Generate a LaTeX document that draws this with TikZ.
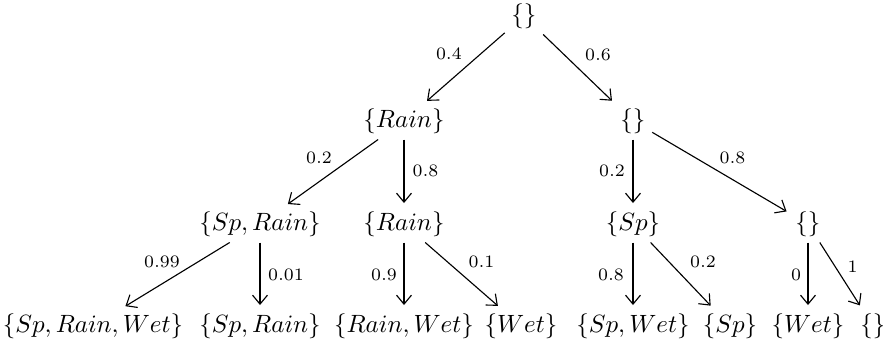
\documentclass[tikz,border=0pt]{standalone}
\usetikzlibrary{arrows.meta}
\begin{document}
\begin{tikzpicture}[x=0.4pt,y=-0.4pt,
  st/.style={inner xsep=2.5pt, inner ysep=2.2pt, text height=7.5pt, text depth=2.5pt},
  lbl/.style={font=\scriptsize, inner sep=0pt},
  ar/.style={-{Straight Barb[length=3.6pt,width=6pt,line width=0.45pt]}, line width=0.45pt, shorten >=1pt},
  med/.style={line width=0.75pt},
  thk/.style={line width=1.1pt}]
\useasboundingbox (0,0) rectangle (883,347);
% nodes
\node[st] (r) at (524,16) {$\{\}$};
\node[st] (a) at (404,121) {$\{Rain\}$};
\node[st] (b) at (633,121) {$\{\}$};
\node[st] (c) at (260,224) {$\{Sp, Rain\}$};
\node[st] (d) at (404,224) {$\{Rain\}$};
\node[st] (e) at (633,224) {$\{Sp\}$};
\node[st] (f) at (808,224) {$\{\}$};
\node[st] (g) at (93,326) {$\{Sp, Rain, Wet\}$};
\node[st] (h) at (260,326) {$\{Sp, Rain\}$};
\node[st] (i) at (404,326) {$\{Rain, Wet\}$};
\node[st] (j) at (521,326) {$\{Wet\}$};
\node[st] (k) at (633,326) {$\{Sp, Wet\}$};
\node[st] (l) at (730,326) {$\{Sp\}$};
\node[st] (m) at (808,326) {$\{Wet\}$};
\node[st] (n) at (873,326) {$\{\}$};
% edges
\draw[ar] (r) -- node[lbl, shift={(-16,-13.5)}] {$0.4$} (a);
\draw[ar] (r) -- node[lbl, shift={(19.5,-13.5)}] {$0.6$} (b);
\draw[ar] (a) -- node[lbl, shift={(-13,-14.5)}] {$0.2$} (c);
\draw[ar,thk] (a) -- node[lbl, shift={(21.5,-1.5)}] {$0.8$} (d);
\draw[ar,med] (b) -- node[lbl, shift={(-21,-1.5)}] {$0.2$} (e);
\draw[ar] (b) -- node[lbl, shift={(12,-14.5)}] {$0.8$} (f);
\draw[ar] (c) -- node[lbl, shift={(-14.5,-13)}] {$0.99$} (g);
\draw[ar,med] (c) -- node[lbl, shift={(26,0)}] {$0.01$} (h);
\draw[ar,thk] (d) -- node[lbl, shift={(-20,0)}] {$0.9$} (i);
\draw[ar] (d) -- node[lbl, shift={(19,-13)}] {$0.1$} (j);
\draw[ar,med] (e) -- node[lbl, shift={(-22,0)}] {$0.8$} (k);
\draw[ar] (e) -- node[lbl, shift={(21.5,-13)}] {$0.2$} (l);
\draw[ar,thk] (f) -- node[lbl, shift={(-12,0)}] {$0$} (m);
\draw[ar] (f) -- node[lbl, shift={(12,-8)}] {$1$} (n);
\end{tikzpicture}
\end{document}
